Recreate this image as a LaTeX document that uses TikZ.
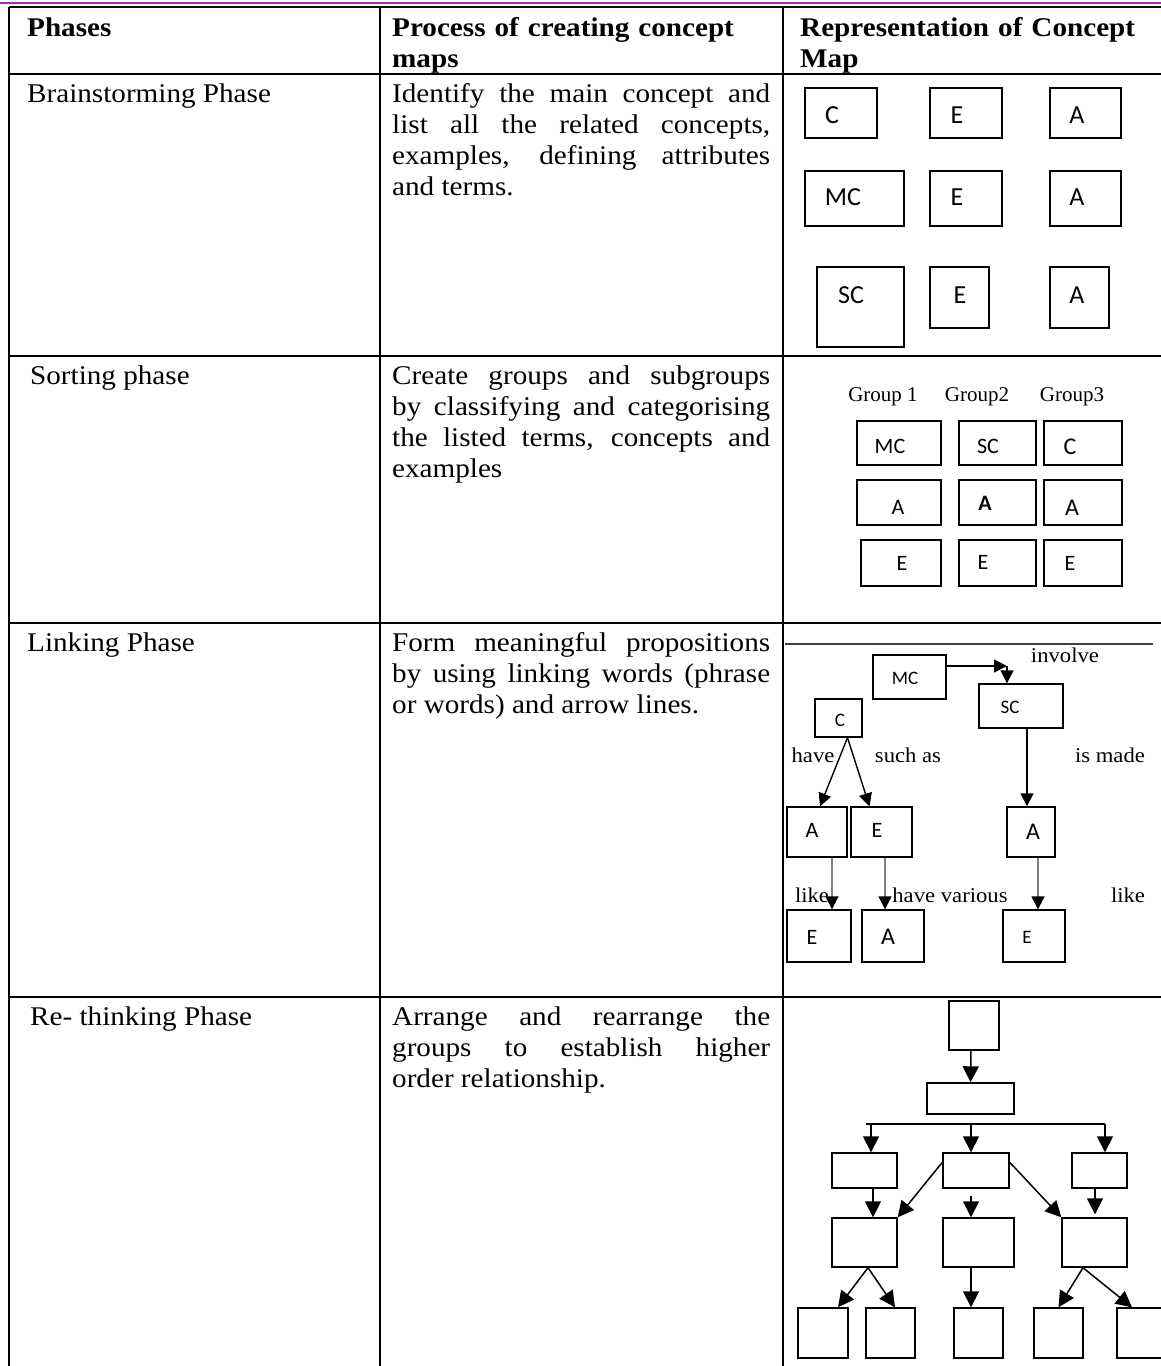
\documentclass[tikz,border=0pt]{standalone}
\usepackage{fontspec}
\setmainfont{Liberation Serif}[FakeStretch=1.08]
\newfontfamily\boxfont{Carlito}
\newfontfamily\grpfont{Liberation Serif}
\usetikzlibrary{arrows.meta}
\definecolor{topline}{HTML}{A52AAD}

\begin{document}
\begin{tikzpicture}[x=1pt, y=-1pt,
    rule/.style={line width=2pt},
    cell/.style={anchor=base west, inner sep=0pt, font=\fontsize{27}{31}\selectfont},
    head/.style={cell, font=\fontsize{27}{31}\selectfont\bfseries, text width=360pt, align=left},
    para/.style={cell, text width=378pt, align=justify},
    box/.style 2 args={draw, line width=1.4pt, inner sep=0pt, minimum width=#1, minimum height=#2},
    big/.style={font=\boxfont\fontsize{26}{26}\selectfont, inner sep=0pt},
    mid/.style={font=\boxfont\fontsize{22}{22}\selectfont, inner sep=0pt},
    small/.style={font=\boxfont\fontsize{19}{19}\selectfont, inner sep=0pt},
    word/.style={font=\fontsize{21}{21}\selectfont, inner sep=0pt},
    tip/.style={-{Triangle[length=16pt,width=16pt]}, line width=1.5pt},
    stip/.style={-{Triangle[length=13pt,width=13pt]}, line width=1.4pt},
    gtip/.style={-{Triangle[length=13pt,width=13pt,color=black]}, line width=1.7pt, black!50}]
  \clip (0,0) rectangle (1161,1366);
  \useasboundingbox (0,0) rectangle (1161,1366);

  % table frame
  \draw[topline, line width=2pt] (0,3) -- (1161,3);
  \draw[line width=2.5pt] (9,7) -- (1170,7);
  \draw[rule] (9,74) -- (1170,74);
  \draw[rule] (9,356) -- (1170,356);
  \draw[rule] (9,623) -- (1170,623);
  \draw[rule] (9,997) -- (1170,997);
  \draw[line width=2.5pt] (9,7) -- (9,1370);
  \draw[rule] (380,7) -- (380,1370);
  \draw[rule] (783,7) -- (783,1370);

  % header
  \node[head] (h1) at (27,36) {Phases};
  \node[head] (h2) at (392,36) {Process of creating concept\\maps};
  \node[head] (h3) at (800,36) {Representation of Concept\\Map};

  % phases
  \node[cell] (p1) at (27,102) {Brainstorming Phase};
  \node[cell] (p2) at (30,384) {Sorting phase};
  \node[cell] (p3) at (27,651) {Linking Phase};
  \node[cell] (p4) at (30,1025) {Re- thinking Phase};

  % process
  \node[para] (t1) at (392,102) {Identify the main concept and\linebreak
    list all the related concepts,\linebreak examples, defining attributes\linebreak and terms.};
  \node[para] (t2) at (392,384) {Create groups and subgroups\linebreak
    by classifying and categorising\linebreak the listed terms, concepts and\linebreak examples};
  \node[para] (t3) at (392,651) {Form meaningful propositions\linebreak
    by using linking words (phrase\linebreak or words) and arrow lines.};
  \node[para] (t4) at (392,1025) {Arrange and rearrange the\linebreak
    groups to establish higher\linebreak order relationship.};

  % brainstorming
  \node[box={72}{50}] (bC) at (841,113) {};
  \node[box={72}{50}] (bE1) at (966,113) {};
  \node[box={71}{50}] (bA1) at (1085.5,113) {};
  \node[box={99}{55}] (bMC) at (854.5,198.5) {};
  \node[box={72}{55}] (bE2) at (966,198.5) {};
  \node[box={71}{55}] (bA2) at (1085.5,198.5) {};
  \node[box={87}{80}] (bSC) at (860.5,307) {};
  \node[box={59}{61}] (bE3) at (959.5,297.5) {};
  \node[box={59}{61}] (bA3) at (1079.5,297.5) {};
  \node[big] (bCt) at (832,115) {C};
  \node[big] (bE1t) at (957,115) {E};
  \node[big] (bA1t) at (1077,115) {A};
  \node[big] (bMCt) at (843,197) {MC};
  \node[big] (bE2t) at (957,197) {E};
  \node[big] (bA2t) at (1077,197) {A};
  \node[big] (bSCt) at (851,295) {SC};
  \node[big] (bE3t) at (960,295) {E};
  \node[big] (bA3t) at (1077,295) {A};

  % sorting
  \node[inner sep=0pt, font=\grpfont\fontsize{21}{21}\selectfont] (g1) at (883,397) {Group 1};
  \node[inner sep=0pt, font=\grpfont\fontsize{21}{21}\selectfont] (g2) at (977,397) {Group2};
  \node[inner sep=0pt, font=\grpfont\fontsize{21}{21}\selectfont] (g3) at (1072,397) {Group3};
  \node[box={84}{44}] (s11) at (899,443) {};
  \node[box={77}{44}] (s12) at (997.5,443) {};
  \node[box={78}{44}] (s13) at (1083,443) {};
  \node[box={84}{45}] (s21) at (899,502.5) {};
  \node[box={77}{45}] (s22) at (997.5,502.5) {};
  \node[box={78}{45}] (s23) at (1083,502.5) {};
  \node[box={80}{46}] (s31) at (901,563) {};
  \node[box={77}{46}] (s32) at (997.5,563) {};
  \node[box={78}{46}] (s33) at (1083,563) {};
  \node[mid] (s11t) at (890,446) {MC};
  \node[mid] (s12t) at (988,446) {SC};
  \node[mid, font=\boxfont\fontsize{24}{24}\selectfont] (s13t) at (1070,447) {C};
  \node[mid] (s21t) at (898,507) {A};
  \node[mid, font=\boxfont\bfseries\fontsize{22}{22}\selectfont] (s22t) at (985,503) {A};
  \node[mid, font=\boxfont\fontsize{24}{24}\selectfont] (s23t) at (1072,508) {A};
  \node[mid] (s31t) at (902,563) {E};
  \node[mid] (s32t) at (983,562) {E};
  \node[mid] (s33t) at (1070,563) {E};

  % linking
  \draw[line width=1.2pt, black!75] (785,644) -- (1153,644);
  \node[box={73}{44}] (lMC) at (909.5,677) {};
  \node[box={84}{44}] (lSC) at (1021,706) {};
  \node[box={47}{38}] (lC) at (838.5,718) {};
  \node[box={60}{50}] (lA1) at (817,832) {};
  \node[box={61}{50}] (lE1) at (881.5,832) {};
  \node[box={48}{50}] (lA2) at (1031,832) {};
  \node[box={64}{52}] (lE2) at (819,936) {};
  \node[box={62}{52}] (lA3) at (893,936) {};
  \node[box={62}{52}] (lE3) at (1034,936) {};
  \node[small] (lMCt) at (905,678) {MC};
  \node[small] (lSCt) at (1010,707) {SC};
  \node[small] (lCt) at (840,720) {C};
  \node[mid] (lA1t) at (812,830) {A};
  \node[mid] (lE1t) at (877,830) {E};
  \node[mid, font=\boxfont\fontsize{24}{24}\selectfont] (lA2t) at (1033,832) {A};
  \node[mid] (lE2t) at (812,937) {E};
  \node[mid, font=\boxfont\fontsize{24}{24}\selectfont] (lA3t) at (888,937) {A};
  \node[small] (lE3t) at (1027,937) {E};
  \node[word] (w1) at (1065,655) {involve};
  \node[word] (w2) at (813,755) {have};
  \node[word] (w3) at (908,755) {such as};
  \node[word] (w4) at (1110,755) {is made};
  \node[word] (w5) at (812,895) {like};
  \node[word] (w6) at (950,895) {have various};
  \node[word] (w7) at (1128,895) {like};
  \coordinate (bend) at (1007,666);
  \draw[stip] ([yshift=11]lMC.east) -- (bend);
  \draw[stip] (bend) -- (bend |- lSC.north);
  \draw[stip] ([xshift=9]lC.south) -- ([xshift=3]lA1.north);
  \draw[stip] ([xshift=9]lC.south) -- ([xshift=-12]lE1.north);
  \draw[stip] ([xshift=6]lSC.south) -- ([xshift=-4]lA2.north);
  \draw[gtip] ([xshift=15]lA1.south) -- ([xshift=13]lE2.north);
  \draw[gtip] ([xshift=3.5]lE1.south) -- ([xshift=-8]lA3.north);
  \draw[gtip] ([xshift=7]lA2.south) -- ([xshift=4]lE3.north);

  % re-thinking
  \node[box={50}{49}] (r1) at (974,1025.5) {};
  \node[box={87}{31}] (r2) at (970.5,1098.5) {};
  \node[box={65}{35}] (r3a) at (864.5,1170.5) {};
  \node[box={66}{35}] (r3b) at (976,1170.5) {};
  \node[box={55}{35}] (r3c) at (1099.5,1170.5) {};
  \node[box={65}{49}] (r4a) at (864.5,1242.5) {};
  \node[box={71}{49}] (r4b) at (978.5,1242.5) {};
  \node[box={65}{49}] (r4c) at (1094.5,1242.5) {};
  \node[box={50}{50}] (r5a) at (823,1333) {};
  \node[box={49}{50}] (r5b) at (890.5,1333) {};
  \node[box={49}{50}] (r5c) at (978.5,1333) {};
  \node[box={49}{50}] (r5d) at (1058.5,1333) {};
  \node[box={50}{50}] (r5e) at (1142,1333) {};
  \coordinate (d1) at (871,1124);
  \coordinate (d2) at (971,1124);
  \coordinate (d3) at (1105,1124);
  \draw[tip] ([xshift=-3]r1.south) -- (r2.north);
  \draw[line width=1.5pt] ([xshift=-5]d1) -- (d3);
  \draw[tip] (d1) -- (d1 |- r3a.north);
  \draw[tip] (d2) -- (d2 |- r3b.north);
  \draw[tip] (d3) -- (d3 |- r3c.north);
  \draw[tip] ([xshift=8.5]r3a.south) -- ([xshift=8.5]r4a.north);
  \draw[tip] ([yshift=-10]r3b.north west) -- (r4a.north east);
  \draw[tip] ([xshift=-5,yshift=-7]r3b.south) -- ([xshift=-7.5]r4b.north);
  \draw[tip] ([yshift=-10]r3b.north east) -- (r4c.north west);
  \draw[tip] ([xshift=-4.5]r3c.south) -- ([xshift=0.5,yshift=3]r4c.north);
  \draw[tip] ([xshift=3.5]r4a.south) -- ([xshift=15]r5a.north);
  \draw[tip] ([xshift=3.5]r4a.south) -- ([xshift=4.5]r5b.north);
  \draw[tip] ([xshift=-7.5]r4b.south) -- ([xshift=-7.5]r5c.north);
  \draw[tip] ([xshift=-11.5]r4c.south) -- (r5d.north);
  \draw[tip] ([xshift=-11.5]r4c.south) -- ([xshift=-10]r5e.north);
\end{tikzpicture}
\end{document}
